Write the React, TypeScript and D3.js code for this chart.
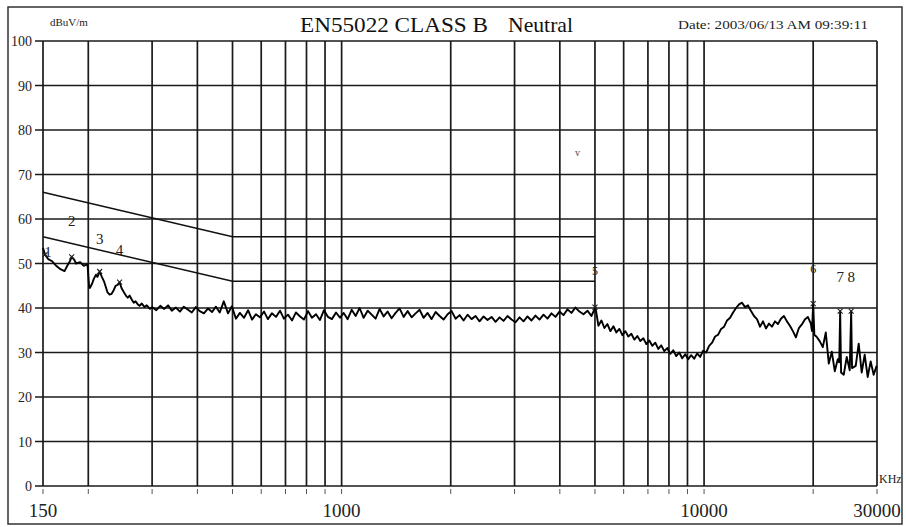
import { useEffect, useRef } from "react";
import * as d3 from "d3";

// axis values
const Y_TICKS = [0, 10, 20, 30, 40, 50, 60, 70, 80, 90, 100];
const GRID_FREQS = [
  150, 200, 300, 400, 500, 600, 700, 800, 900, 1000, 2000, 3000, 4000, 5000,
  6000, 7000, 8000, 9000, 10000, 20000, 30000,
];
const X_LABELS = [150, 1000, 10000, 30000];

// EN55022 class B limit lines (kHz, dBuV); above 5 MHz they sit on the 60/50 grid
const QP_LIMIT = [[150, 66], [500, 56], [5000, 56]];
const AV_LIMIT = [[150, 56], [500, 46], [5000, 46]];

const TRACE_150_300 = [
  [150, 53.5], [152, 52], [155, 51], [159, 50.5], [163, 49.5], [167, 48.8],
  [172, 48.3], [175, 49.5], [178, 50.5], [180, 51.5], [183, 50.8], [185, 50],
  [190, 50.3], [194, 49.5], [199, 49.8], [201, 45], [202, 44.5], [205, 45.5],
  [207, 46.5], [210, 47.5], [212, 47], [215, 48.2], [218, 47], [221, 46],
  [224, 44.5], [226, 43.5], [229, 43], [232, 43.2], [235, 44], [238, 45],
  [241, 45.2], [244, 45.8], [247, 44.5], [251, 43.5], [254, 42.8], [257, 42.3],
  [260, 42.8], [264, 41.8], [267, 41.2], [270, 41.5], [274, 40.8], [277, 40.5],
  [281, 41], [286, 40.2], [290, 40.6], [296, 39.8],
];
const TRACE_300_1000 = [
  [300, 40.2], [308, 39.5], [316, 40.5], [324, 39.8], [332, 40.6], [340, 39.4],
  [349, 40.1], [358, 39.2], [367, 40.3], [377, 39.6], [386, 39.0], [396, 40.2],
  [406, 39.3], [417, 38.8], [428, 39.9], [439, 39.1], [450, 40.3], [461, 39.0],
  [473, 41.5], [486, 38.8], [498, 40.4], [511, 37.6], [524, 38.9], [538, 37.8],
  [552, 39.5], [566, 37.4], [580, 38.6], [595, 37.9], [611, 39.2], [626, 37.5],
  [642, 38.8], [659, 38.0], [676, 39.4], [693, 37.6], [711, 38.5], [730, 37.2],
  [748, 39.0], [768, 38.1], [787, 37.4], [808, 39.3], [828, 37.8], [850, 38.6],
  [871, 37.3], [894, 39.5], [917, 38.0], [940, 37.5], [965, 39.0], [990, 37.8],
];
const TRACE_1000_5000 = [
  [1013, 38.9], [1039, 37.5], [1066, 39.6], [1093, 38.2], [1121, 40.0],
  [1150, 37.8], [1180, 39.4], [1210, 38.5], [1241, 37.6], [1273, 39.8],
  [1306, 38.1], [1339, 39.2], [1374, 37.7], [1409, 38.9], [1445, 39.9],
  [1483, 38.0], [1521, 39.3], [1560, 37.9], [1600, 38.8], [1641, 39.6],
  [1683, 37.8], [1727, 38.9], [1771, 37.5], [1817, 39.1], [1864, 38.2],
  [1911, 37.4], [1961, 38.6], [2011, 39.3], [2063, 37.6], [2116, 38.4],
  [2170, 37.2], [2226, 38.5], [2283, 37.5], [2342, 38.2], [2402, 37.0],
  [2464, 38.1], [2527, 37.3], [2592, 38.0], [2659, 36.9], [2727, 37.9],
  [2797, 37.1], [2869, 38.2], [2943, 37.4], [3019, 36.8], [3096, 37.9],
  [3176, 37.0], [3257, 38.1], [3341, 37.2], [3427, 38.3], [3515, 37.4],
  [3606, 38.5], [3698, 37.6], [3793, 38.8], [3891, 38.0], [3991, 39.2],
  [4093, 38.4], [4199, 39.7], [4307, 38.9], [4417, 40.1], [4531, 39.2],
  [4647, 38.6], [4767, 39.4], [4889, 38.2], [5015, 40.2],
];
const TRACE_5000_30000 = [
  [5111, 36.0], [5209, 37.2], [5309, 35.5], [5411, 36.4], [5515, 34.8],
  [5621, 35.9], [5729, 34.5], [5839, 35.3], [5951, 33.9], [6065, 34.8],
  [6181, 33.6], [6300, 34.2], [6421, 32.9], [6544, 33.7], [6670, 32.6],
  [6798, 33.2], [6928, 31.9], [7061, 32.7], [7197, 31.5], [7335, 32.2],
  [7476, 30.8], [7619, 31.6], [7765, 30.3], [7914, 31.0], [8066, 29.7],
  [8221, 30.5], [8379, 29.2], [8540, 30.0], [8704, 28.7], [8871, 29.6],
  [9041, 28.5], [9214, 29.4], [9391, 28.6], [9571, 29.8], [9755, 29.0],
  [9942, 30.4], [10133, 30.0], [10327, 31.5], [10525, 32.2], [10727, 33.6],
  [10933, 34.0], [11143, 35.3], [11357, 35.8], [11575, 37.2], [11797, 37.8],
  [12023, 39.0], [12254, 40.0], [12489, 40.8], [12729, 41.2], [12973, 40.2],
  [13222, 40.6], [13476, 39.3], [13734, 38.2], [13998, 37.5], [14266, 35.8],
  [14540, 37.0], [14819, 35.4], [15103, 36.5], [15393, 35.8], [15688, 37.0],
  [15989, 36.4], [16296, 37.6], [16609, 38.2], [16927, 37.0], [17252, 36.0],
  [17583, 34.8], [17920, 33.4], [18264, 35.5], [18614, 36.3], [18971, 37.4],
  [19335, 38.0], [19706, 36.5], [19850, 34.8], [20000, 41.0], [20150, 34.0],
  [20469, 33.5], [20862, 32.5], [21262, 31.2], [21670, 34.5], [22086, 27.5],
  [22510, 30.2], [22941, 25.8], [23381, 28.5], [23600, 27.8], [23740, 39.3],
  [23880, 25.5], [24287, 25.0], [24753, 29.0], [25228, 26.0], [25460, 39.3],
  [25600, 26.5], [26205, 27.0], [26708, 32.0], [27220, 25.5], [27742, 29.5],
  [28274, 24.5], [28817, 28.0], [29370, 25.0], [29933, 27.0],
];

// peak markers: frequency, level, level where the number sits
const MARKER_IDS = ["1", "2", "3", "4", "5", "6", "7", "8"];
const MARKER_FREQS = [152, 180, 215, 244, 5000, 20000, 23740, 25460];
const MARKER_LEVELS = [52, 51.5, 48.2, 45.8, 40.2, 41.0, 39.3, 39.3];
const MARKER_LABEL_LEVELS = [52.5, 59.5, 55.5, 53, 48.5, 49, 47, 47];

const W = 906;
const H = 527;
const FONT = "'Liberation Serif', 'Times New Roman', serif";

export default function App() {
  const svgRef = useRef(null);

  useEffect(() => {
    const svg = d3.select(svgRef.current);
    svg.selectAll("*").remove();

    const x = d3.scaleLog().domain([150, 30000]).range([43, 877]);
    const y = d3.scaleLinear().domain([0, 100]).range([486, 41]);

    svg.append("rect").attr("width", W).attr("height", H).attr("fill", "#fff");

    // outer frame
    svg
      .append("rect")
      .attr("x", 8)
      .attr("y", 7)
      .attr("width", 894)
      .attr("height", 517)
      .attr("fill", "none")
      .attr("stroke", "#333")
      .attr("stroke-width", 1.5);

    // horizontal grid + left ticks
    const hg = svg.append("g");
    Y_TICKS.forEach((v) => {
      hg.append("line")
        .attr("x1", 35)
        .attr("x2", x(30000))
        .attr("y1", y(v))
        .attr("y2", y(v))
        .attr("stroke", "#1a1a1a")
        .attr("stroke-width", 1.7);
      hg.append("text")
        .attr("x", 32)
        .attr("y", y(v) + 5)
        .attr("text-anchor", "end")
        .attr("font-family", FONT)
        .attr("font-size", 14)
        .attr("fill", "#222")
        .text(v);
    });

    // vertical grid + bottom ticks
    const vg = svg.append("g");
    GRID_FREQS.forEach((f) => {
      vg.append("line")
        .attr("x1", x(f))
        .attr("x2", x(f))
        .attr("y1", y(100))
        .attr("y2", y(0))
        .attr("stroke", "#1a1a1a")
        .attr("stroke-width", 1.7);
      vg.append("line")
        .attr("x1", x(f))
        .attr("x2", x(f))
        .attr("y1", y(0) + 3)
        .attr("y2", y(0) + 8)
        .attr("stroke", "#555")
        .attr("stroke-width", 1);
    });

    X_LABELS.forEach((f) => {
      svg
        .append("text")
        .attr("x", x(f))
        .attr("y", 517)
        .attr("text-anchor", "middle")
        .attr("font-family", FONT)
        .attr("font-size", 19)
        .attr("fill", "#222")
        .text(f);
    });

    // limit lines
    const lim = d3
      .line()
      .x((d) => x(d[0]))
      .y((d) => y(d[1]));
    [QP_LIMIT, AV_LIMIT].forEach((l) => {
      svg
        .append("path")
        .datum(l)
        .attr("fill", "none")
        .attr("stroke", "#111")
        .attr("stroke-width", 1.5)
        .attr("d", lim);
    });

    // measured trace
    const trace = [
      ...TRACE_150_300,
      ...TRACE_300_1000,
      ...TRACE_1000_5000,
      ...TRACE_5000_30000,
    ];
    svg
      .append("path")
      .datum(trace)
      .attr("fill", "none")
      .attr("stroke", "#000")
      .attr("stroke-width", 1.9)
      .attr("stroke-linejoin", "round")
      .attr("d", lim);

    // markers
    MARKER_IDS.forEach((id, i) => {
      const mx = x(MARKER_FREQS[i]);
      const my = y(MARKER_LEVELS[i]);
      svg
        .append("path")
        .attr("d", `M${mx - 2.5},${my - 2.5}L${mx + 2.5},${my + 2.5}M${mx - 2.5},${my + 2.5}L${mx + 2.5},${my - 2.5}`)
        .attr("stroke", "#222")
        .attr("stroke-width", 1.1);
      svg
        .append("text")
        .attr("x", id === "1" ? mx + 3 : mx)
        .attr("y", y(MARKER_LABEL_LEVELS[i]) + 5)
        .attr("text-anchor", "middle")
        .attr("font-family", FONT)
        .attr("font-size", id === "5" || id === "6" ? 12 : 15)
        .attr("fill", "#222")
        .text(id);
    });

    // header
    svg
      .append("text")
      .attr("x", 50)
      .attr("y", 26)
      .attr("font-family", FONT)
      .attr("font-size", 11)
      .attr("fill", "#222")
      .text("dBuV/m");
    svg
      .append("text")
      .attr("x", 300)
      .attr("y", 32)
      .attr("font-family", FONT)
      .attr("font-size", 22)
      .attr("textLength", 188)
      .attr("lengthAdjust", "spacingAndGlyphs")
      .attr("fill", "#111")
      .text("EN55022 CLASS B");
    svg
      .append("text")
      .attr("x", 508)
      .attr("y", 32)
      .attr("font-family", FONT)
      .attr("font-size", 22)
      .attr("textLength", 65)
      .attr("lengthAdjust", "spacingAndGlyphs")
      .attr("fill", "#111")
      .text("Neutral");
    svg
      .append("text")
      .attr("x", 678)
      .attr("y", 29)
      .attr("font-family", FONT)
      .attr("font-size", 13)
      .attr("textLength", 190)
      .attr("lengthAdjust", "spacingAndGlyphs")
      .attr("fill", "#222")
      .text("Date: 2003/06/13 AM 09:39:11");
    svg
      .append("text")
      .attr("x", 879)
      .attr("y", 483)
      .attr("font-family", FONT)
      .attr("font-size", 12)
      .attr("fill", "#222")
      .text("KHz");
    svg
      .append("text")
      .attr("x", 575)
      .attr("y", 156)
      .attr("font-family", FONT)
      .attr("font-size", 10)
      .attr("fill", "#444")
      .text("v");
  }, []);

  return (
    <svg
      ref={svgRef}
      width={W}
      height={H}
      style={{ position: "absolute", left: 0, top: 0, display: "block" }}
    ></svg>
  );
}
